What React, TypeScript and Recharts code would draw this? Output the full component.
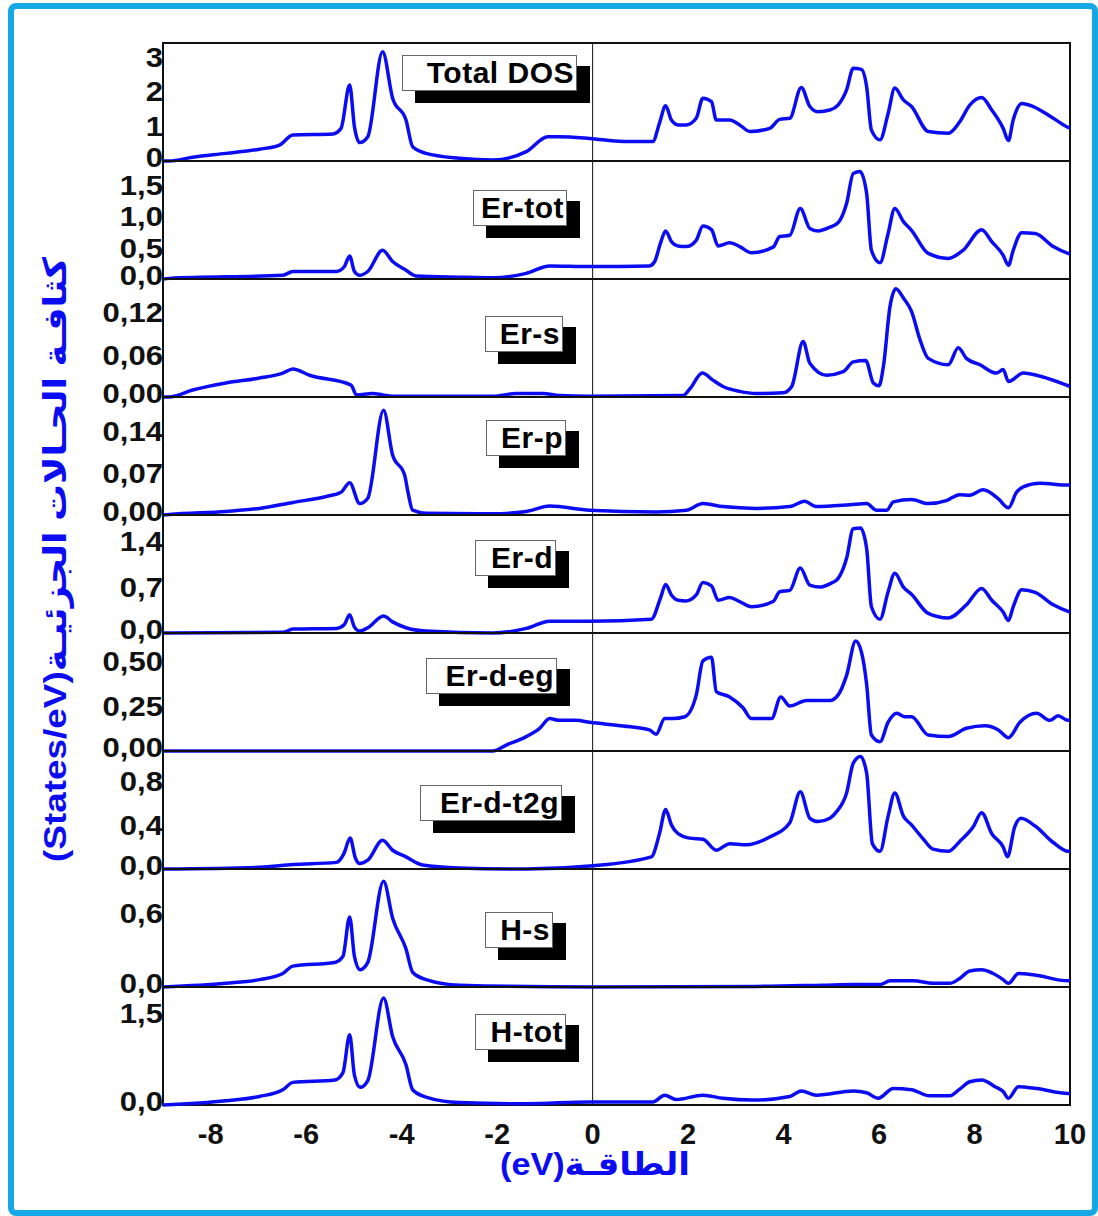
import { LineChart, Line, XAxis, YAxis, ReferenceArea, ReferenceLine } from "recharts";

// [energy (eV), states/eV]
const totalDos = [
  [-9, 0], [-8.87, 0], [-8.38, 0.11], [-7.68, 0.22], [-6.98, 0.34], [-6.56, 0.46], [-6.28, 0.75], [-5.44, 0.78],
  [-5.27, 0.94], [-5.09, 2.19], [-4.99, 0.99], [-4.88, 0.53], [-4.71, 0.7], [-4.4, 3.15], [-4.19, 1.81],
  [-3.91, 1.18], [-3.77, 0.41], [-3.49, 0.22], [-2.79, 0.08], [-2.09, 0.03], [-1.39, 0.27], [-0.94, 0.7],
  [-0.7, 0.7], [-0.06, 0.65], [0.64, 0.56], [1.26, 0.56], [1.4, 1.09], [1.53, 1.59], [1.65, 1.18], [1.79, 1.04],
  [1.96, 1.04], [2.17, 1.23], [2.31, 1.81], [2.49, 1.71], [2.59, 1.18], [2.87, 1.18], [3.08, 1.04], [3.29, 0.85],
  [3.71, 0.94], [3.92, 1.2], [4.13, 1.23], [4.37, 2.12], [4.55, 1.57], [4.72, 1.42], [4.97, 1.47], [5.14, 1.61],
  [5.32, 2.05], [5.46, 2.67], [5.63, 2.64], [5.74, 2.14], [5.84, 0.89], [6.02, 0.61], [6.19, 1.37], [6.33, 2.1],
  [6.51, 1.76], [6.68, 1.57], [7.03, 0.85], [7.45, 0.8], [7.69, 1.13], [7.9, 1.61], [8.15, 1.83], [8.36, 1.47],
  [8.6, 0.94], [8.71, 0.59], [8.81, 1.18], [8.99, 1.66], [9.23, 1.57], [9.65, 1.23], [9.96, 0.97], [10, 0.95],
];

const erTot = [
  [-9, 0], [-8.87, 0.01], [-6.49, 0.06], [-6.28, 0.12], [-5.37, 0.12], [-5.2, 0.2], [-5.09, 0.37], [-4.99, 0.12],
  [-4.88, 0.06], [-4.71, 0.12], [-4.4, 0.46], [-4.19, 0.28], [-3.91, 0.14], [-3.7, 0.05], [-2.79, 0.03],
  [-2.09, 0.02], [-1.39, 0.09], [-0.9, 0.21], [-0.06, 0.2], [1.19, 0.21], [1.3, 0.28], [1.42, 0.57], [1.53, 0.77],
  [1.65, 0.6], [1.79, 0.53], [1.96, 0.52], [2.17, 0.62], [2.31, 0.85], [2.49, 0.79], [2.63, 0.53], [2.87, 0.58],
  [3.08, 0.52], [3.33, 0.42], [3.78, 0.51], [3.92, 0.68], [4.13, 0.7], [4.35, 1.13], [4.55, 0.81], [4.72, 0.77],
  [4.97, 0.83], [5.14, 0.9], [5.32, 1.21], [5.46, 1.69], [5.6, 1.72], [5.74, 1.37], [5.84, 0.46], [6.02, 0.26],
  [6.19, 0.73], [6.33, 1.13], [6.51, 0.92], [6.68, 0.78], [7.03, 0.41], [7.45, 0.33], [7.76, 0.46], [8.15, 0.79],
  [8.36, 0.6], [8.6, 0.38], [8.71, 0.22], [8.81, 0.46], [8.99, 0.74], [9.27, 0.73], [9.65, 0.52], [9.96, 0.41], [10, 0.4],
];

const erS = [
  [-9, 0], [-8.87, 0], [-8.38, 0.01], [-7.68, 0.02], [-6.98, 0.027], [-6.49, 0.034], [-6.28, 0.04], [-5.93, 0.031],
  [-5.06, 0.017], [-4.95, 0.003], [-4.61, 0.005], [-4.4, 0.003], [-4.19, 0.001], [-2.09, 0.001], [-1.6, 0.005],
  [-1.04, 0.005], [-0.7, 0.002], [-0.06, 0.001], [1.89, 0.002], [2.03, 0.011], [2.3, 0.034], [2.52, 0.024],
  [2.73, 0.015], [3.08, 0.008], [3.43, 0.005], [3.99, 0.006], [4.17, 0.015], [4.41, 0.079], [4.55, 0.048],
  [4.9, 0.031], [5.25, 0.036], [5.46, 0.05], [5.72, 0.052], [5.88, 0.02], [6.0, 0.016], [6.09, 0.043],
  [6.23, 0.129], [6.35, 0.154], [6.51, 0.141], [6.68, 0.122], [6.86, 0.081], [7.03, 0.055], [7.45, 0.046],
  [7.66, 0.07], [7.83, 0.055], [8.11, 0.046], [8.46, 0.034], [8.6, 0.039], [8.71, 0.022], [9.02, 0.034],
  [9.3, 0.031], [9.96, 0.016], [10, 0.015],
];

const erP = [
  [-9, 0], [-8.87, 0.001], [-7.68, 0.006], [-6.98, 0.011], [-6.28, 0.021], [-5.58, 0.031], [-5.27, 0.038],
  [-5.09, 0.054], [-4.88, 0.019], [-4.71, 0.028], [-4.38, 0.175], [-4.19, 0.1], [-3.94, 0.067], [-3.87, 0.039],
  [-3.77, 0.008], [-3.49, 0.003], [-2.09, 0.002], [-1.39, 0.006], [-0.9, 0.015], [-0.06, 0.008], [1.33, 0.005],
  [1.96, 0.008], [2.31, 0.019], [2.73, 0.014], [3.43, 0.011], [4.13, 0.014], [4.44, 0.023], [4.68, 0.014],
  [5.39, 0.017], [5.74, 0.019], [5.95, 0.008], [6.16, 0.008], [6.3, 0.022], [6.68, 0.026], [7.03, 0.019],
  [7.41, 0.024], [7.69, 0.034], [7.9, 0.033], [8.18, 0.042], [8.5, 0.027], [8.71, 0.012], [8.88, 0.038],
  [9.02, 0.047], [9.37, 0.053], [9.96, 0.05], [10, 0.05],
];

const erD = [
  [-9, 0], [-8.87, 0], [-6.49, 0.01], [-6.28, 0.06], [-5.37, 0.07], [-5.2, 0.13], [-5.09, 0.28], [-4.99, 0.09],
  [-4.88, 0.03], [-4.71, 0.08], [-4.38, 0.26], [-4.19, 0.17], [-3.91, 0.08], [-3.49, 0.03], [-2.09, 0],
  [-1.39, 0.07], [-0.9, 0.18], [-0.06, 0.18], [1.23, 0.21], [1.42, 0.53], [1.53, 0.74], [1.65, 0.58], [1.79, 0.5],
  [1.96, 0.49], [2.17, 0.58], [2.31, 0.77], [2.49, 0.72], [2.63, 0.5], [2.87, 0.54], [3.08, 0.48], [3.33, 0.4],
  [3.78, 0.48], [3.92, 0.63], [4.13, 0.65], [4.35, 0.99], [4.55, 0.73], [4.76, 0.7], [4.97, 0.75], [5.14, 0.83],
  [5.32, 1.14], [5.46, 1.59], [5.61, 1.6], [5.74, 1.29], [5.84, 0.4], [6.02, 0.21], [6.19, 0.63], [6.33, 0.91],
  [6.51, 0.7], [6.68, 0.59], [7.03, 0.3], [7.45, 0.23], [7.83, 0.43], [8.15, 0.68], [8.36, 0.5], [8.6, 0.32],
  [8.71, 0.19], [8.81, 0.4], [8.99, 0.66], [9.27, 0.62], [9.65, 0.43], [9.96, 0.33], [10, 0.32],
];

const erDeg = [
  [-9, 0], [-2.09, 0], [-1.81, 0.033], [-1.39, 0.08], [-1.11, 0.126], [-0.9, 0.18], [-0.7, 0.17], [-0.35, 0.17],
  [-0.06, 0.159], [0.64, 0.139], [1.19, 0.117], [1.33, 0.093], [1.51, 0.18], [1.68, 0.18], [1.93, 0.19],
  [2.17, 0.31], [2.31, 0.5], [2.49, 0.52], [2.59, 0.33], [2.87, 0.3], [3.15, 0.24], [3.33, 0.18], [3.75, 0.18],
  [3.94, 0.3], [4.13, 0.25], [4.48, 0.28], [4.97, 0.28], [5.14, 0.31], [5.32, 0.42], [5.51, 0.61], [5.63, 0.55],
  [5.74, 0.37], [5.84, 0.089], [6.02, 0.052], [6.19, 0.16], [6.37, 0.21], [6.54, 0.19], [6.68, 0.19],
  [7.03, 0.089], [7.45, 0.08], [7.83, 0.126], [8.22, 0.14], [8.5, 0.117], [8.71, 0.074], [8.95, 0.16],
  [9.3, 0.21], [9.58, 0.17], [9.75, 0.195], [9.96, 0.17], [10, 0.17],
];

const erDt2g = [
  [-9, 0], [-6.98, 0.015], [-6.28, 0.04], [-5.37, 0.06], [-5.21, 0.14], [-5.08, 0.28], [-4.97, 0.1], [-4.88, 0.05],
  [-4.71, 0.08], [-4.4, 0.26], [-4.19, 0.17], [-3.91, 0.11], [-3.56, 0.036], [-2.79, 0.01], [-1.39, 0],
  [-0.06, 0.027], [1.23, 0.11], [1.4, 0.32], [1.53, 0.54], [1.65, 0.4], [1.79, 0.32], [2.03, 0.28], [2.31, 0.27],
  [2.59, 0.17], [2.87, 0.23], [3.22, 0.22], [3.71, 0.29], [4.13, 0.42], [4.35, 0.7], [4.55, 0.46], [4.72, 0.43],
  [4.97, 0.46], [5.11, 0.52], [5.32, 0.69], [5.46, 0.96], [5.61, 1.02], [5.74, 0.87], [5.86, 0.23], [6.02, 0.16],
  [6.19, 0.48], [6.33, 0.69], [6.51, 0.48], [6.68, 0.4], [6.93, 0.27], [7.13, 0.18], [7.45, 0.16], [7.69, 0.25],
  [7.97, 0.38], [8.15, 0.51], [8.36, 0.32], [8.6, 0.2], [8.69, 0.11], [8.84, 0.38], [8.97, 0.46], [9.27, 0.39],
  [9.65, 0.24], [9.96, 0.16], [10, 0.16],
];

const hS = [
  [-9, 0], [-7.68, 0.03], [-6.98, 0.06], [-6.49, 0.11], [-6.28, 0.17], [-5.4, 0.2], [-5.23, 0.25], [-5.09, 0.57],
  [-4.99, 0.25], [-4.87, 0.14], [-4.71, 0.2], [-4.38, 0.86], [-4.19, 0.56], [-3.91, 0.31], [-3.77, 0.12],
  [-3.49, 0.06], [-2.79, 0.015], [0, 0], [3.43, 0.005], [4.83, 0.015], [5.46, 0.02], [6.02, 0.02], [6.23, 0.05],
  [6.72, 0.05], [7.13, 0.03], [7.48, 0.03], [7.69, 0.07], [7.9, 0.13], [8.15, 0.14], [8.39, 0.11], [8.6, 0.06],
  [8.71, 0.03], [8.92, 0.11], [9.23, 0.1], [9.96, 0.05], [10, 0.05],
];

const hTot = [
  [-9, 0], [-7.68, 0.07], [-6.98, 0.14], [-6.49, 0.25], [-6.28, 0.37], [-5.4, 0.41], [-5.23, 0.53], [-5.09, 1.15],
  [-4.99, 0.49], [-4.87, 0.29], [-4.71, 0.4], [-4.38, 1.75], [-4.19, 1.12], [-3.91, 0.66], [-3.77, 0.25],
  [-3.49, 0.13], [-2.79, 0.04], [-1.39, 0.02], [-0.06, 0.05], [1.26, 0.05], [1.51, 0.16], [1.75, 0.09],
  [2.31, 0.16], [2.73, 0.11], [3.36, 0.08], [4.13, 0.14], [4.37, 0.23], [4.69, 0.16], [5.46, 0.23], [5.74, 0.2],
  [5.98, 0.11], [6.3, 0.27], [6.68, 0.25], [7.06, 0.15], [7.48, 0.15], [7.69, 0.26], [7.9, 0.38], [8.15, 0.41],
  [8.43, 0.3], [8.6, 0.22], [8.71, 0.11], [8.92, 0.3], [9.3, 0.27], [9.96, 0.19], [10, 0.19],
];

const xTicks = [-8, -6, -4, -2, 0, 2, 4, 6, 8, 10];

const BLUE = "#0c0cf2";
const FRAME = "#15a8e4";
const FONT = "'Liberation Sans', Arial, 'DejaVu Sans', sans-serif";

const PLOT_TOP = 43;
const PANEL_H = 118;
const PAD = 14; // svg overhang above/below each plot so edge labels are not clipped

const panels = [
  { name: "Total DOS", data: totalDos, max: 3.4, ticks: [0, 1, 2, 3], dec: 0, box: { x: 402, y: 55, w: 175 } },
  { name: "Er-tot", data: erTot, max: 1.89, ticks: [0, 0.5, 1, 1.5], dec: 1, box: { x: 473, y: 190, w: 94 } },
  { name: "Er-s", data: erS, max: 0.168, ticks: [0, 0.06, 0.12], dec: 2, box: { x: 485, y: 316, w: 78 } },
  { name: "Er-p", data: erP, max: 0.197, ticks: [0, 0.07, 0.14], dec: 2, box: { x: 486, y: 420, w: 80 } },
  { name: "Er-d", data: erD, max: 1.8, ticks: [0, 0.7, 1.4], dec: 1, box: { x: 475, y: 540, w: 81 } },
  { name: "Er-d-eg", data: erDeg, max: 0.655, ticks: [0, 0.25, 0.5], dec: 2, box: { x: 426, y: 658, w: 131 } },
  { name: "Er-d-t2g", data: erDt2g, max: 1.07, ticks: [0, 0.4, 0.8], dec: 1, box: { x: 420, y: 785, w: 142 } },
  { name: "H-s", data: hS, max: 0.96, ticks: [0, 0.6], dec: 1, box: { x: 485, y: 912, w: 68 } },
  { name: "H-tot", data: hTot, max: 1.93, ticks: [0, 1.5], dec: 1, box: { x: 475, y: 1014, w: 91 } },
];

function YTick({ x, y, payload, dec }: any) {
  const label = Number(payload.value).toFixed(dec).replace(".", ",");
  const shift = payload.value === 0 ? -4 : 0;
  return (
    <text
      transform={`translate(${x},${y + shift}) scale(1.15,1)`}
      dy="0.36em"
      textAnchor="end"
      fontSize={27}
      fontWeight={700}
      fill="#111"
      fontFamily={FONT}
    >
      {label}
    </text>
  );
}

function Panel({ p, index, last }: { p: (typeof panels)[number]; index: number; last: boolean }) {
  const rows = p.data.map(([e, v]) => ({ e, v }));
  const axisH = 52;
  return (
    <div style={{ position: "absolute", left: 0, top: PLOT_TOP + PANEL_H * index - PAD }}>
      <LineChart
        width={1098}
        height={PAD + PANEL_H + (last ? axisH : PAD)}
        data={rows}
        margin={{ top: PAD, right: 28, bottom: last ? 0 : PAD, left: 0 }}
      >
        <XAxis
          type="number"
          dataKey="e"
          domain={[-9, 10]}
          ticks={xTicks}
          hide={!last}
          height={axisH}
          axisLine={false}
          tickLine={false}
          tickSize={0}
          tickMargin={18}
          tick={{ fontSize: 29, fontWeight: 700, fill: "#111", fontFamily: FONT }}
        />
        <YAxis
          type="number"
          domain={[0, p.max]}
          ticks={p.ticks}
          width={163}
          axisLine={false}
          tickLine={false}
          tickSize={0}
          tickMargin={0}
          interval={0}
          tick={(props: any) => <YTick {...props} dec={p.dec} />}
        />
        <ReferenceLine x={0} stroke="#111" strokeWidth={1} />
        <Line type="monotone" dataKey="v" stroke={BLUE} strokeWidth={3.5} dot={false} isAnimationActive={false} />
        <ReferenceArea x1={-9} x2={10} y1={0} y2={p.max} fill="none" fillOpacity={0} stroke="#111" strokeWidth={2} />
      </LineChart>
    </div>
  );
}

function NameBox({ name, box }: { name: string; box: { x: number; y: number; w: number } }) {
  return (
    <>
      <div style={{ position: "absolute", left: box.x + 13, top: box.y + 11, width: box.w, height: 37, background: "#000" }} />
      <div
        style={{
          position: "absolute",
          left: box.x,
          top: box.y,
          width: box.w,
          height: 36,
          boxSizing: "border-box",
          background: "#fff",
          border: "1px solid #666",
          display: "flex",
          justifyContent: "flex-end",
          alignItems: "center",
          paddingRight: 2,
          fontFamily: FONT,
          fontWeight: 700,
          fontSize: 30,
          letterSpacing: 0.5,
          color: "#000",
          whiteSpace: "nowrap",
          lineHeight: "36px",
        }}
      >
        {name}
      </div>
    </>
  );
}

export default function App() {
  return (
    <div style={{ position: "relative", width: 1098, height: 1216, background: "#fff", overflow: "hidden" }}>
      <style>{"body{margin:0}"}</style>
      <div
        style={{
          position: "absolute",
          left: 8,
          top: 3,
          width: 1090,
          height: 1213,
          boxSizing: "border-box",
          border: `6px solid ${FRAME}`,
          borderRadius: 8,
        }}
      />
      {panels.map((p, i) => (
        <Panel key={p.name} p={p} index={i} last={i === panels.length - 1} />
      ))}
      {panels.map((p) => (
        <NameBox key={p.name} name={p.name} box={p.box} />
      ))}
      <svg width={1098} height={1216} style={{ position: "absolute", left: 0, top: 0, pointerEvents: "none" }}>
        <text
          transform="translate(66,862) rotate(-90)"
          fontSize={32}
          fontWeight={700}
          fill={BLUE}
          fontFamily={FONT}
          textLength={605}
          lengthAdjust="spacingAndGlyphs"
        >
          (States/eV)كثافـة الحـالات الجزئيـة
        </text>
        <text x={500} y={1175} fontSize={32} fontWeight={700} fill={BLUE} fontFamily={FONT} textLength={190} lengthAdjust="spacingAndGlyphs">
          (eV)الطاقـة
        </text>
      </svg>
    </div>
  );
}
